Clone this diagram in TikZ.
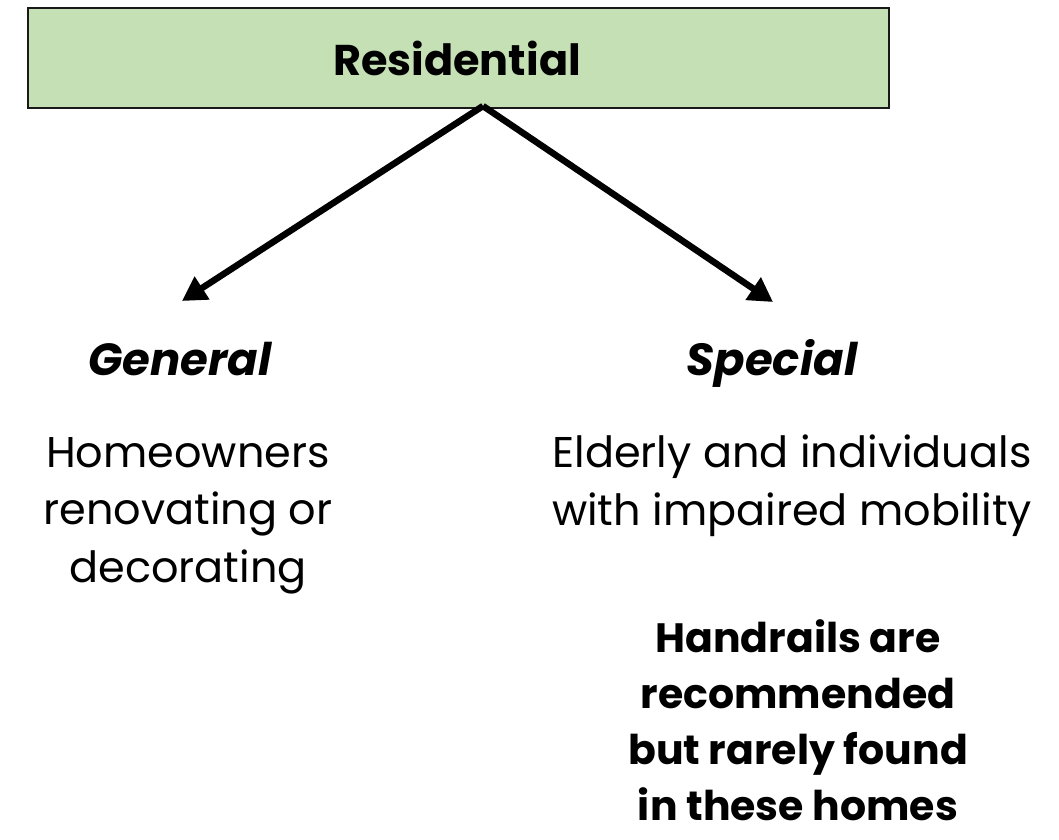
\documentclass[tikz,border=0pt]{standalone}
\usepackage{fontspec}
\usetikzlibrary{arrows.meta}
\setmainfont{Poppins}
\setsansfont{Poppins}
\begin{document}
\begin{tikzpicture}[x=1pt,y=-1pt,
  body/.style={font=\fontsize{43}{57.5}\selectfont, align=center, inner sep=0pt},
  bodybold/.style={font=\fontsize{41}{56}\selectfont\bfseries, align=center, inner sep=0pt},
  head/.style={font=\fontsize{45}{50}\selectfont\itshape\bfseries, inner sep=0pt},
  arr/.style={line width=6.5pt, -{Triangle[length=24pt,width=26pt]}}]
\useasboundingbox (0,0) rectangle (1059,839);
\definecolor{boxgreen}{HTML}{C5E0B4}
\node[draw=black!90, line width=2pt, fill=boxgreen, minimum width=861pt, minimum height=100pt, anchor=north west] (res) at (27,7) {};
\node[font=\fontsize{43}{50}\selectfont\bfseries, inner sep=0pt, anchor=base] (rlab) at (457,75) {Residential};
\coordinate (top) at (483,106);
\coordinate (lt) at (182,301);
\coordinate (rt) at (773,302);
\draw[arr] (top) -- (lt);
\draw[arr] (top) -- (rt);
\node[head, anchor=base] (gen) at (180,375) {General};
\node[head, anchor=base] (spe) at (772,375) {Special};
\node[body, anchor=base] (home) at (188,582) {Homeowners\\renovating or\\decorating};
\node[body, anchor=base] (eld) at (792,525) {Elderly and individuals\\with impaired mobility};
\node[bodybold, anchor=base] (hand) at (798,820) {Handrails are\\recommended\\but rarely found\\in these homes};
\end{tikzpicture}
\end{document}
